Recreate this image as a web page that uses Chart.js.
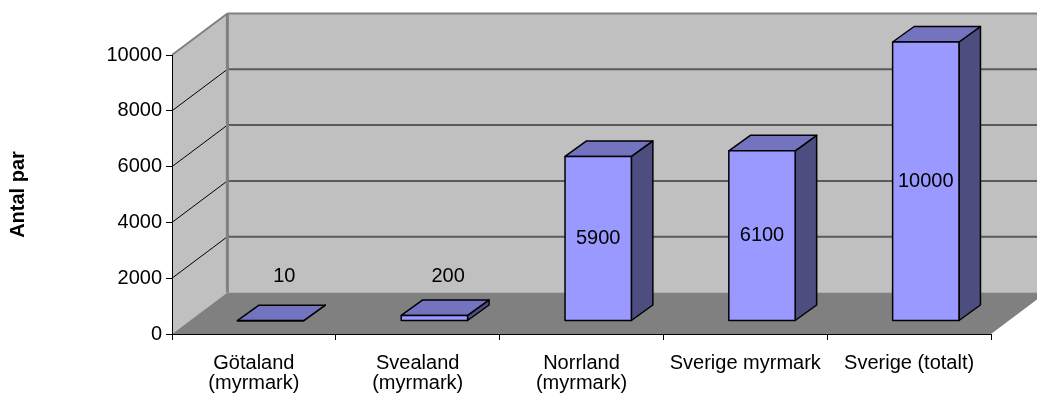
<!DOCTYPE html>
<html>
<head>
<meta charset="utf-8">
<title>Antal par</title>
<script src="https://cdn.jsdelivr.net/npm/chart.js@4/dist/chart.umd.min.js"></script>
<style>
  html, body { margin: 0; padding: 0; background: #fff; }
  #c { display: block; }
</style>
</head>
<body>
<canvas id="c" width="1037" height="398"></canvas>
<script>
// Categories and values
const categories = [
  ['Götaland', '(myrmark)'],
  ['Svealand', '(myrmark)'],
  ['Norrland', '(myrmark)'],
  'Sverige myrmark',
  'Sverige (totalt)'
];
const pairCounts = [10, 200, 5900, 6100, 10000];
const yTickValues = [0, 2000, 4000, 6000, 8000, 10000];
const yAxisTitle = 'Antal par';

// 3D look: wall depth and column depth (pixels)
const WALL_DX = 55.4, WALL_DY = 41.5;
const COL_OX = 16.7, COL_OY = 13;     // column front face, pushed into the floor
const COL_DX = 21.5, COL_DY = 15.5;   // column depth
const FONT = '"Liberation Sans", Arial, sans-serif';
const FONT_SIZE = 20;

function poly(ctx, pts, fill, stroke, lw) {
  ctx.beginPath();
  ctx.moveTo(pts[0][0], pts[0][1]);
  for (let i = 1; i < pts.length; i++) ctx.lineTo(pts[i][0], pts[i][1]);
  ctx.closePath();
  if (fill) { ctx.fillStyle = fill; ctx.fill(); }
  if (stroke) { ctx.strokeStyle = stroke; ctx.lineWidth = lw || 1; ctx.stroke(); }
}
function line(ctx, x1, y1, x2, y2, color, lw) {
  ctx.beginPath();
  ctx.moveTo(x1, y1); ctx.lineTo(x2, y2);
  ctx.strokeStyle = color; ctx.lineWidth = lw; ctx.stroke();
}

// Walls, floor and back-wall gridlines
const wallsPlugin = {
  id: 'walls3d',
  beforeDraw(chart) {
    const { ctx, chartArea: a, scales: { y } } = chart;
    const L = a.left, R = a.right;
    const T = y.getPixelForValue(y.max), B = y.getPixelForValue(0);
    const dx = WALL_DX, dy = WALL_DY;
    ctx.save();
    ctx.fillStyle = '#fff';
    ctx.fillRect(0, 0, chart.width, chart.height);
    poly(ctx, [[L + dx, T - dy], [R + dx, T - dy], [R + dx, B - dy], [L + dx, B - dy]], '#C0C0C0');
    poly(ctx, [[L, T], [L + dx, T - dy], [L + dx, B - dy], [L, B]], '#C0C0C0');
    poly(ctx, [[L, B], [L + dx, B - dy], [R + dx, B - dy], [R, B]], '#808080');
    y.ticks.forEach(t => {
      if (t.value <= y.min || t.value >= y.max) return;
      const py = y.getPixelForValue(t.value);
      line(ctx, L + dx, py - dy, R + dx, py - dy, '#5A5A5A', 2);
      line(ctx, L, py, L + dx, py - dy, '#000', 1);
    });
    line(ctx, L, T, L + dx, T - dy, '#808080', 2);
    line(ctx, L + dx, T - dy, R + dx, T - dy, '#808080', 2);
    line(ctx, L + dx, T - dy, L + dx, B - dy, '#808080', 3);
    ctx.restore();
  }
};

// 3D columns and their value labels, placed from the bar elements
const columnsPlugin = {
  id: 'columns3d',
  afterDatasetsDraw(chart) {
    const { ctx } = chart;
    const meta = chart.getDatasetMeta(0);
    const values = chart.data.datasets[0].data;
    ctx.save();
    ctx.lineJoin = 'round';
    meta.data.forEach((bar, i) => {
      const p = bar.getProps(['x', 'y', 'base', 'width'], true);
      const fl = p.x - p.width / 2 + COL_OX, fr = p.x + p.width / 2 + COL_OX;
      const ft = p.y - COL_OY, fb = p.base - COL_OY;
      // side
      poly(ctx, [[fr, ft], [fr + COL_DX, ft - COL_DY], [fr + COL_DX, fb - COL_DY], [fr, fb]], '#4D4D80', '#000', 1.5);
      // top
      poly(ctx, [[fl, ft], [fl + COL_DX, ft - COL_DY], [fr + COL_DX, ft - COL_DY], [fr, ft]], '#7373BF', '#000', 1.5);
      // front
      poly(ctx, [[fl, ft], [fr, ft], [fr, fb], [fl, fb]], '#9999FF', '#000', 1.5);

      ctx.fillStyle = '#000';
      ctx.font = FONT_SIZE + 'px ' + FONT;
      ctx.textAlign = 'center';
      ctx.textBaseline = 'middle';
      const txt = String(values[i]);
      if (fb - ft > 30) {
        ctx.fillText(txt, (fl + fr) / 2, (ft + fb) / 2);
      } else {
        // short columns: label sits above the column
        ctx.fillText(txt, (fl + fr) / 2 + COL_DX / 2 + 3, fb - COL_DY - 29);
      }
    });
    ctx.restore();
  }
};

const tickFont = { family: FONT, size: FONT_SIZE };

new Chart(document.getElementById('c'), {
  type: 'bar',
  data: {
    labels: categories,
    datasets: [{
      data: pairCounts,
      backgroundColor: 'rgba(0,0,0,0)',
      borderWidth: 0,
      barPercentage: 0.405,
      categoryPercentage: 1
    }]
  },
  options: {
    responsive: false,
    animation: false,
    devicePixelRatio: 1,
    layout: { padding: { top: 55, right: 46, bottom: 0, left: 0 } },
    plugins: { legend: { display: false }, tooltip: { enabled: false } },
    scales: {
      x: {
        grid: { drawOnChartArea: false, color: '#000', tickLength: 6, offset: true },
        border: { color: '#000', width: 1 },
        ticks: { color: '#000', font: Object.assign({ lineHeight: '20px' }, tickFont), padding: 13, maxRotation: 0, autoSkip: false },
        afterFit(s) { s.height = 64; }
      },
      y: {
        min: yTickValues[0],
        max: yTickValues[yTickValues.length - 1],
        afterBuildTicks(s) { s.ticks = yTickValues.map(v => ({ value: v })); },
        ticks: { color: '#000', font: tickFont, padding: 4, callback: v => String(v) },
        grid: { drawOnChartArea: false, color: '#000', tickLength: 6 },
        border: { color: '#000', width: 1 },
        title: {
          display: true, text: yAxisTitle, color: '#000',
          font: { family: FONT, size: 20, weight: 'bold' },
          padding: { top: 6, bottom: 0 }
        },
        afterFit(s) { s.width = 172; }
      }
    }
  },
  plugins: [wallsPlugin, columnsPlugin]
});
</script>
</body>
</html>
